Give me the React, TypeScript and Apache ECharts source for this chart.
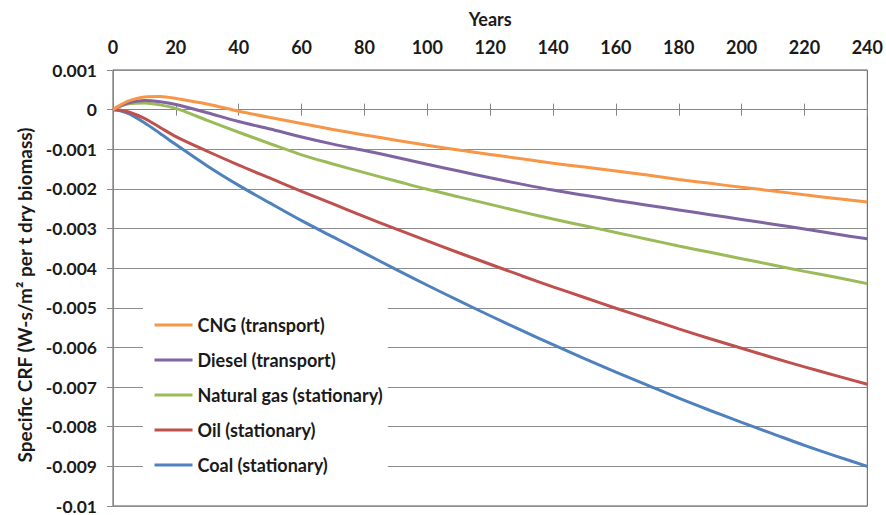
import React, { useEffect, useRef } from "react";
import * as echarts from "echarts";

const years = [0, 2, 5, 10, 15, 20, 30, 40, 50, 60, 70, 80, 90, 100, 110, 120, 130, 140, 150, 160, 170, 180, 190, 200, 210, 220, 230, 240];

const cng = [0, 0.0001, 0.00022, 0.00032, 0.00033, 0.00028, 0.00014, -0.00004, -0.0002, -0.00035, -0.0005, -0.00064, -0.00077, -0.0009, -0.00102, -0.00113, -0.00124, -0.00135, -0.00145, -0.00155, -0.00165, -0.00176, -0.00186, -0.00196, -0.00205, -0.00215, -0.00224, -0.00233];
const diesel = [0, 0.00008, 0.00017, 0.00023, 0.0002, 0.00013, -0.00008, -0.0003, -0.00049, -0.00069, -0.00087, -0.00103, -0.0012, -0.00138, -0.00155, -0.00172, -0.00188, -0.00203, -0.00216, -0.00229, -0.00241, -0.00253, -0.00265, -0.00277, -0.00289, -0.00301, -0.00314, -0.00326];
const naturalGas = [0, 0.00008, 0.00015, 0.00017, 0.00012, 0.00003, -0.00027, -0.00057, -0.00086, -0.00114, -0.00137, -0.00159, -0.0018, -0.00201, -0.0022, -0.00239, -0.00258, -0.00276, -0.00293, -0.0031, -0.00327, -0.00344, -0.0036, -0.00376, -0.00392, -0.00408, -0.00423, -0.00439];
const oil = [0, -0.00001, -0.00006, -0.00022, -0.00045, -0.00068, -0.00105, -0.0014, -0.00173, -0.00206, -0.00238, -0.0027, -0.00301, -0.00331, -0.00361, -0.0039, -0.00419, -0.00447, -0.00474, -0.00501, -0.00527, -0.00553, -0.00578, -0.00602, -0.00626, -0.00649, -0.00671, -0.00693];
const coal = [0, -0.00002, -0.0001, -0.00033, -0.0006, -0.00088, -0.00142, -0.00191, -0.00236, -0.0028, -0.00321, -0.00362, -0.00403, -0.00443, -0.00482, -0.0052, -0.00557, -0.00593, -0.00628, -0.00662, -0.00695, -0.00728, -0.00759, -0.00789, -0.00818, -0.00847, -0.00874, -0.009];

const seriesNames = ["CNG (transport)", "Diesel (transport)", "Natural gas (stationary)", "Oil (stationary)", "Coal (stationary)"];
const seriesColors = ["#F79646", "#8064A2", "#9BBB59", "#C0504D", "#4F81BD"];
const seriesValues = [cng, diesel, naturalGas, oil, coal];

const FONT = "Lato";
const TEXT = "#1a1a1a";

export default function App() {
  const ref = useRef<HTMLDivElement>(null);
  useEffect(() => {
    if (!ref.current) return;
    const chart = echarts.init(ref.current, undefined, { renderer: "svg" });
    const xBase = { type: "value" as const, min: 0, max: 240, interval: 20 };
    const yBase = { type: "value" as const, min: -0.01, max: 0.001, interval: 0.001 };
    chart.setOption({
      animation: false,
      backgroundColor: "#fff",
      grid: { left: 113, right: 17, top: 70, bottom: 7, show: true, borderColor: "#595959", borderWidth: 1 },
      legend: {
        orient: "vertical",
        left: 143,
        top: 296,
        padding: [20, 5, 16, 10],
        backgroundColor: "#fff",
        itemWidth: 38,
        itemHeight: 14,
        itemGap: 17,
        data: seriesNames,
        itemStyle: { opacity: 0 },
        lineStyle: { width: 3 },
        textStyle: { fontFamily: FONT, fontWeight: "bold", fontSize: 18, color: TEXT },
      },
      xAxis: [
        {
          ...xBase,
          position: "top",
          name: "Years",
          nameLocation: "middle",
          nameGap: 42,
          nameTextStyle: { fontFamily: FONT, fontWeight: "bold", fontSize: 18, color: TEXT },
          axisLine: { show: false, onZero: false },
          axisTick: { show: false },
          splitLine: { show: false },
          axisLabel: { fontFamily: FONT, fontWeight: "bold", fontSize: 18, color: TEXT, margin: 14 },
        },
        {
          ...xBase,
          position: "bottom",
          axisLine: { show: true, onZero: true, onZeroAxisIndex: 0, lineStyle: { color: "#868686", width: 1 } },
          axisTick: { show: true, inside: true, length: 6, lineStyle: { color: "#868686" } },
          axisLabel: { show: false },
          splitLine: { show: false },
        },
        {
          ...xBase,
          position: "bottom",
          axisLine: { show: false, onZero: true, onZeroAxisIndex: 1 },
          axisTick: { show: true, inside: false, length: 6, lineStyle: { color: "#868686" } },
          axisLabel: { show: false },
          splitLine: { show: false },
        },
      ],
      yAxis: [
        {
          ...yBase,
          name: "Specific CRF (W-s/m² per t dry biomass)",
          nameLocation: "middle",
          nameGap: 79,
          nameTextStyle: { fontFamily: FONT, fontWeight: "bold", fontSize: 19, color: TEXT, padding: [0, 14, 0, 0] },
          axisLine: { show: true, lineStyle: { color: "#868686" } },
          axisTick: { show: true, length: 6, lineStyle: { color: "#868686" } },
          splitLine: { show: true, lineStyle: { color: "#8c8c8c", width: 1 } },
          axisLabel: { fontFamily: FONT, fontWeight: "bold", fontSize: 17.5, color: TEXT, margin: 16 },
        },
        {
          ...yBase,
          show: false,
          splitLine: { show: false },
        },
      ],
      series: seriesNames.map((name, i) => ({
        name,
        type: "line",
        xAxisIndex: 0,
        yAxisIndex: 0,
        symbol: "none",
        smooth: 0.3,
        lineStyle: { width: 3, color: seriesColors[i] },
        itemStyle: { color: seriesColors[i] },
        data: years.map((y, j) => [y, seriesValues[i][j]]),
        z: 10 - i,
      })),
    });
    return () => chart.dispose();
  }, []);
  return <div ref={ref} style={{ position: "absolute", left: 0, top: 0, width: 886, height: 515 }} />;
}
